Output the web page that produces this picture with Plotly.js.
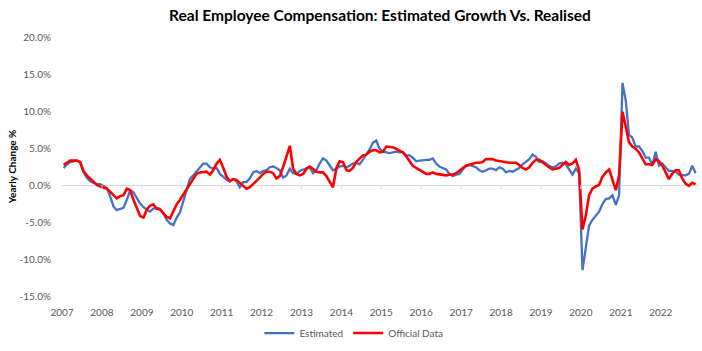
<!DOCTYPE html>
<html>
<head>
<meta charset="utf-8">
<script src="https://cdn.plot.ly/plotly-3.0.1.min.js"></script>
<style>html,body{margin:0;padding:0;background:#fff}#chart{width:702px;height:351px}</style>
</head>
<body>
<div id="chart"></div>
<script>
// Monthly observations, Jan 2007 .. Nov 2022 (yearly change, %)
const startYear = 2007;
const estimated = [
 2.3,2.8,3.1,3.2,3.3,3.1,1.8,1.0,0.5,0.3,0.1,0.1,
 -0.2,-0.4,-1.5,-2.9,-3.4,-3.2,-3.1,-2.0,-0.7,-1.0,-1.7,-2.5,
 -3.0,-3.3,-3.6,-3.2,-3.1,-3.2,-3.8,-4.7,-5.2,-5.4,-4.4,-3.7,
 -2.1,-0.6,0.8,1.3,1.8,2.4,2.9,2.9,2.4,2.2,2.3,1.5,
 1.1,0.7,0.5,0.8,0.5,-0.3,0.4,0.4,0.9,1.7,1.9,1.6,
 1.9,2.0,2.4,2.5,2.3,2.0,1.0,1.3,2.2,1.6,1.5,1.9,
 2.1,2.3,2.4,1.6,2.0,2.9,3.6,3.3,2.6,2.0,2.2,2.5,
 2.6,2.4,2.6,2.9,3.0,2.8,3.4,4.1,4.8,5.7,6.0,4.9,
 4.5,4.4,4.3,4.4,4.5,4.4,4.5,4.0,4.0,3.7,3.2,3.3,
 3.4,3.4,3.4,3.6,2.9,2.5,2.3,2.1,1.5,1.2,1.4,1.5,
 2.1,2.6,2.7,2.6,2.4,2.0,1.8,2.0,2.2,2.2,2.0,2.4,
 2.2,1.7,1.9,1.8,2.0,2.3,2.8,3.2,3.5,4.1,3.8,3.1,
 3.2,2.9,2.6,2.4,2.5,2.9,3.0,2.8,2.1,1.4,2.2,1.6,
 -11.5,-8.2,-5.5,-4.7,-4.1,-3.6,-2.6,-1.9,-1.8,-1.4,-2.7,-1.4,
 13.8,11.3,6.8,6.4,5.2,5.2,4.6,3.7,3.7,2.7,4.5,2.6,
 2.9,2.4,1.9,1.9,1.8,1.4,1.3,1.3,1.5,2.6,1.6
];
const official = [
 2.7,3.0,3.3,3.3,3.3,3.1,1.9,1.3,0.85,0.4,0.0,-0.2,
 -0.3,-0.5,-0.9,-1.4,-1.8,-1.5,-1.4,-0.5,-0.7,-2.0,-3.2,-4.2,
 -4.4,-3.3,-2.8,-2.6,-3.2,-3.3,-3.8,-4.3,-4.5,-3.6,-2.6,-2.0,
 -1.3,-0.5,0.2,0.9,1.5,1.7,1.8,1.8,1.4,2.0,2.9,3.4,
 2.3,1.1,0.5,0.8,0.7,0.3,-0.1,-0.5,-0.3,0.1,0.5,1.0,
 1.5,1.8,1.8,1.6,0.9,1.2,2.4,4.0,5.3,2.2,1.5,1.3,
 1.5,2.2,2.5,2.2,1.8,1.7,1.7,1.2,0.4,-0.3,2.3,3.2,
 3.1,2.0,1.9,2.3,3.1,3.6,4.0,4.1,4.5,4.7,4.7,4.4,
 4.5,5.2,5.2,5.1,4.9,4.6,4.4,3.9,3.3,2.6,2.3,2.0,
 1.7,1.5,1.5,1.7,1.5,1.4,1.4,1.3,1.4,1.4,1.6,2.0,
 2.3,2.6,2.7,2.9,3.0,3.0,3.1,3.5,3.5,3.5,3.3,3.2,
 3.1,3.0,3.0,3.0,3.0,2.7,2.3,2.1,2.4,3.0,3.4,3.4,
 3.0,2.7,2.4,2.1,2.2,2.3,2.7,3.1,2.7,2.9,3.4,2.0,
 -6.0,-4.1,-1.4,-0.5,-0.2,0.0,1.1,1.7,2.1,0.8,-0.7,1.3,
 9.9,7.8,5.8,5.2,4.9,4.4,3.7,2.8,2.8,2.7,3.5,3.2,
 2.6,1.7,0.8,1.5,2.0,2.0,0.9,0.2,-0.1,0.3,0.1
];
const yearTicks = ['2007','2008','2009','2010','2011','2012','2013','2014','2015','2016','2017','2018','2019','2020','2021','2022'];
const yTickVals = [-15,-10,-5,0,5,10,15,20];
const yTickText = ['-15.0%','-10.0%','-5.0%','0.0%','5.0%','10.0%','15.0%','20.0%'];
const seriesNames = ['Estimated','Official Data'];

function monthDates(n){
  const out=[];
  for(let i=0;i<n;i++){
    const y=startYear+Math.floor(i/12), m=(i%12)+1;
    out.push(y+'-'+String(m).padStart(2,'0')+'-16');
  }
  return out;
}
const dates = monthDates(estimated.length);

const traces = [
  {x:dates,y:estimated,type:'scatter',mode:'lines',name:seriesNames[0],
   line:{color:'#4472C4',width:2.3},hoverinfo:'skip'},
  {x:dates,y:official,type:'scatter',mode:'lines',name:seriesNames[1],
   line:{color:'#FF0000',width:2.6},hoverinfo:'skip'}
];

const tickShapes = yearTicks.map(t=>({
  type:'line',xref:'x',yref:'y',ysizemode:'pixel',yanchor:0,
  x0:t+'-01-01',x1:t+'-01-01',y0:0,y1:-4,
  line:{color:'#D9D9D9',width:1}
}));

const layout = {
  width:702,height:351,
  paper_bgcolor:'#fff',plot_bgcolor:'#fff',
  margin:{l:62,r:4,t:37,b:53},
  font:{family:'Lato, "Open Sans", sans-serif',color:'#595959',size:10},
  title:{text:'Real Employee Compensation: Estimated Growth Vs. Realised',
    font:{family:'Lato, sans-serif',size:15.5,color:'#000',weight:'bold'},
    x:0.5,xanchor:'center',xref:'paper',y:0.955,yref:'container',yanchor:'middle'},
  xaxis:{type:'date',range:['2007-01-01','2022-12-08'],
    tickvals:yearTicks.map(t=>t+'-01-01'),ticktext:yearTicks,
    showgrid:false,zeroline:false,showline:false,ticks:'outside',ticklen:7,tickcolor:'rgba(0,0,0,0)',
    tickfont:{size:10,color:'#595959'},fixedrange:true},
  yaxis:{range:[-15,20],tickvals:yTickVals,ticktext:yTickText,
    showgrid:false,zeroline:true,zerolinecolor:'#D9D9D9',zerolinewidth:1,showline:false,
    ticks:'outside',ticklen:8,tickcolor:'rgba(0,0,0,0)',
    tickfont:{size:10,color:'#595959'},fixedrange:true},
  showlegend:true,
  legend:{orientation:'h',x:0.459,xanchor:'center',y:-0.143,yanchor:'middle',
    font:{size:10,color:'#595959'},itemwidth:30,traceorder:'normal'},
  shapes:tickShapes,
  annotations:[{text:'Yearly Change %',textangle:-90,xref:'paper',yref:'paper',
    x:-0.079,y:0.5,xanchor:'center',yanchor:'middle',showarrow:false,
    font:{size:10,color:'#000',family:'Lato, sans-serif',weight:'bold'}}]
};

Plotly.newPlot('chart',traces,layout,{displayModeBar:false,staticPlot:true});
</script>
</body>
</html>
